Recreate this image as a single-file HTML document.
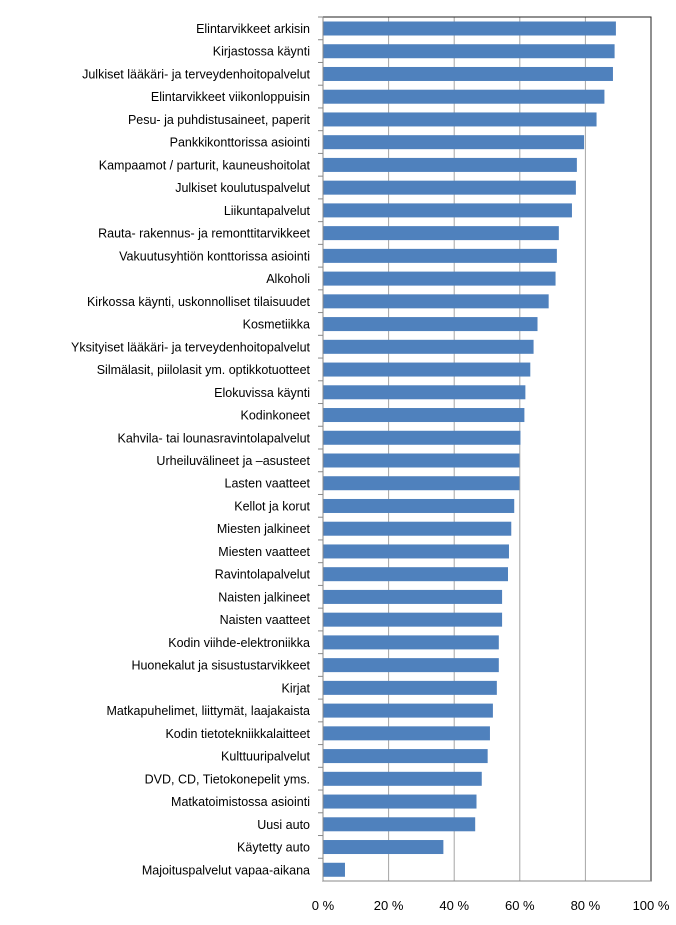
<!DOCTYPE html>
<html><head><meta charset="utf-8"><style>
body{margin:0;background:#fff;}
svg text{font-family:"Liberation Sans",sans-serif;}
</style></head><body>
<svg id="chart" width="676" height="920" xmlns="http://www.w3.org/2000/svg"></svg>
<script>
const categories=["Elintarvikkeet arkisin","Kirjastossa käynti","Julkiset lääkäri- ja terveydenhoitopalvelut","Elintarvikkeet viikonloppuisin","Pesu- ja puhdistusaineet, paperit","Pankkikonttorissa asiointi","Kampaamot / parturit, kauneushoitolat","Julkiset koulutuspalvelut","Liikuntapalvelut","Rauta- rakennus- ja remonttitarvikkeet","Vakuutusyhtiön konttorissa asiointi","Alkoholi","Kirkossa käynti, uskonnolliset tilaisuudet","Kosmetiikka","Yksityiset lääkäri- ja terveydenhoitopalvelut","Silmälasit, piilolasit ym. optikkotuotteet","Elokuvissa käynti","Kodinkoneet","Kahvila- tai lounasravintolapalvelut","Urheiluvälineet ja –asusteet","Lasten vaatteet","Kellot ja korut","Miesten jalkineet","Miesten vaatteet","Ravintolapalvelut","Naisten jalkineet","Naisten vaatteet","Kodin viihde-elektroniikka","Huonekalut ja sisustustarvikkeet","Kirjat","Matkapuhelimet, liittymät, laajakaista","Kodin tietotekniikkalaitteet","Kulttuuripalvelut","DVD, CD, Tietokonepelit yms.","Matkatoimistossa asiointi","Uusi auto","Käytetty auto","Majoituspalvelut vapaa-aikana"];
const values=[89.3,88.9,88.4,85.8,83.4,79.6,77.4,77.1,75.9,71.9,71.3,70.9,68.8,65.4,64.2,63.2,61.7,61.4,60.2,59.9,59.9,58.3,57.4,56.7,56.4,54.6,54.6,53.6,53.6,53.0,51.8,50.9,50.2,48.4,46.8,46.4,36.7,6.7];
const ticks=[0,20,40,60,80,100];
const tickLabels=["0 %","20 %","40 %","60 %","80 %","100 %"];
const svg=document.getElementById('chart');
const NS="http://www.w3.org/2000/svg";
const L=323,R=651,T=17,B=881;
const x=v=>L+(R-L)*v/100;
const band=(B-T)/categories.length;
const y=i=>T+band*i;
function mk(tag,attrs){const e=document.createElementNS(NS,tag);for(const k in attrs)e.setAttribute(k,attrs[k]);svg.appendChild(e);return e;}
ticks.forEach((t,i)=>{
  if(t>0&&t<100){const g=mk('line',{x1:x(t),x2:x(t),y1:T,y2:B,stroke:'#a6a6a6','stroke-width':1});
  
  }
  const tx=mk('text',{x:x(t),y:910,'text-anchor':'middle','font-size':13,fill:'#000'});
  tx.textContent=tickLabels[i];
  
  
});
const bd=mk('rect',{x:L,y:T,width:R-L,height:B-T,fill:'none',stroke:'#222','stroke-width':1});


categories.forEach((c,i)=>{
  const r=mk('rect',{x:L,y:y(i)+4.5,width:x(values[i])-L,height:14,fill:'#4f81bd'});
  
  
  const tk=mk('line',{x1:L-5,x2:L,y1:y(i),y2:y(i),stroke:'#888'});
  
  
  const t=mk('text',{x:310,y:y(i)+16,'text-anchor':'end','font-size':12.5,fill:'#000'});
  t.textContent=c;
  
  
});
const ax=mk('line',{x1:L,x2:L,y1:T,y2:B,stroke:'#888'});


const bx=mk('line',{x1:L,x2:R,y1:B,y2:B,stroke:'#888'});


</script>
</body></html>
